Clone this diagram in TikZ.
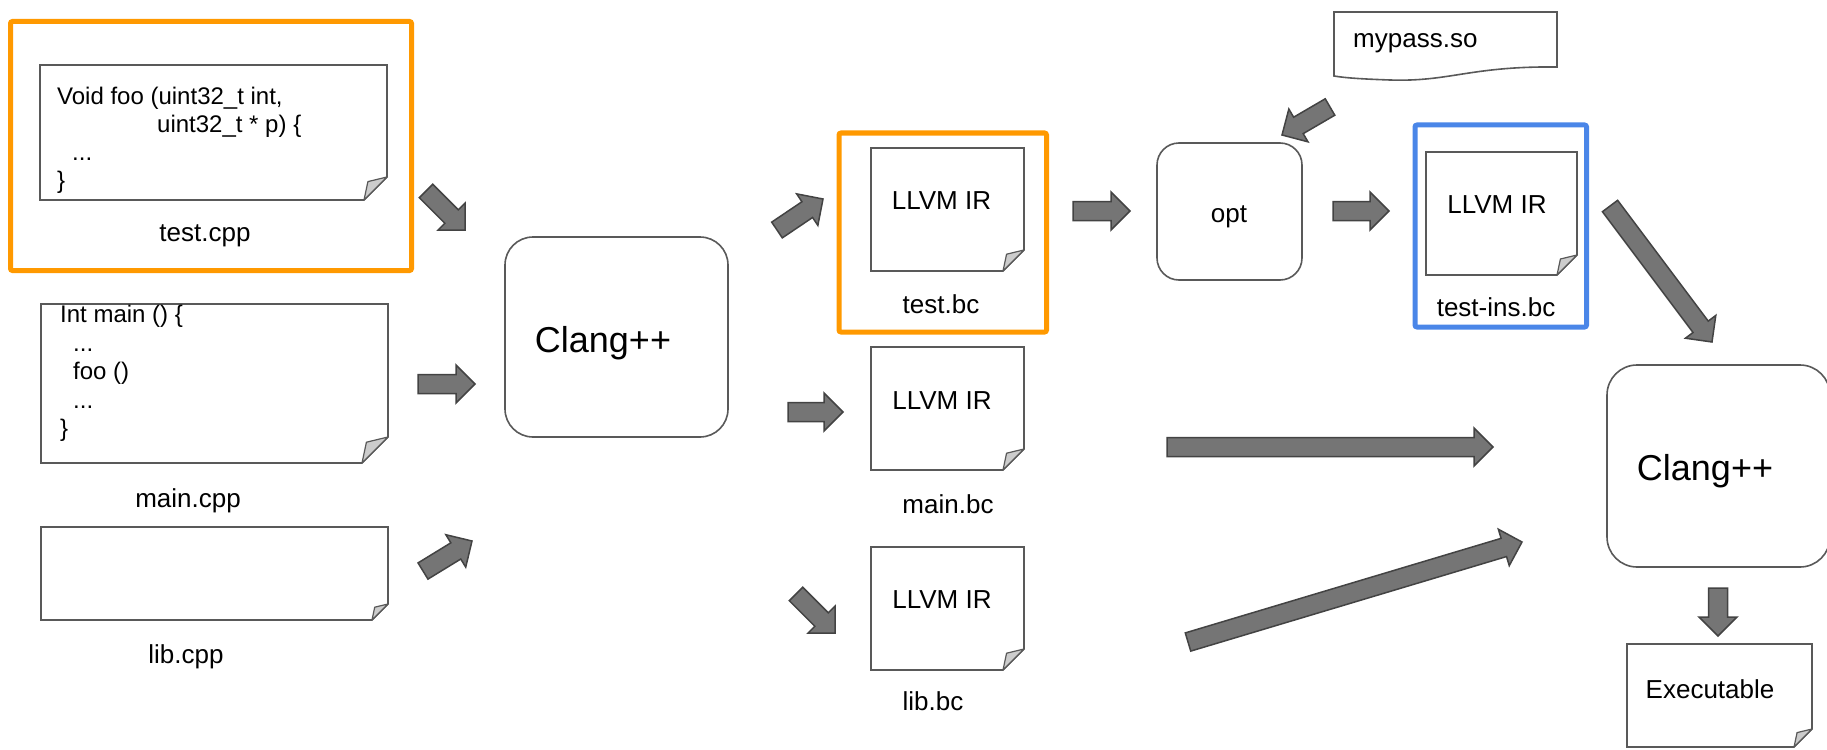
\documentclass[tikz,border=0pt]{standalone}
\usepackage{fontspec}
\setmainfont{Liberation Sans}
\usepackage{tikz}
\usetikzlibrary{
  calc,
  fit
}
\definecolor{hlorange}{HTML}{FF9900}
\definecolor{hlblue}{HTML}{4A86E8}
\definecolor{edgegray}{HTML}{595959}
\definecolor{foldgray}{HTML}{CCCCCC}
\definecolor{arrowfill}{HTML}{757575}
\definecolor{arrowedge}{HTML}{434343}

\tikzset{
  docframe/.style={inner sep=0pt, outer sep=0pt},
  docline/.style={draw=edgegray, line width=1.6pt, fill=white, line join=miter},
  foldpart/.style={draw=edgegray, line width=1.2pt, fill=foldgray, line join=round},
  procbox/.style={draw=edgegray, line width=1.6pt, inner sep=0pt, fill=white},
  hlframe/.style={draw=#1, line width=5pt, inner sep=0pt, rounded corners=2pt},
  blockarrow/.style={fill=arrowfill, draw=arrowedge, line width=1.5pt, line join=miter},
  lbl/.style={font=\fontsize{26}{30}\selectfont, inner sep=0pt, anchor=base},
  codetxt/.style={align=left, inner sep=0pt, anchor=north west},
  bigtxt/.style={font=\fontsize{36}{40}\selectfont, inner sep=0pt, anchor=base}
}

% page with a dog-eared corner, drawn round a fitted node
\newcommand{\foldeddoc}[2]{%
  \draw[docline] (#1.north west) -- (#1.north east) -- ($(#1.south east)+(0,-#2)$)
    -- ($(#1.south east)+(-#2,0)$) -- (#1.south west) -- cycle;
  \draw[foldpart] ($(#1.south east)+(0,-#2)$) -- ($(#1.south east)+(-#2,0)$)
    -- ($(#1.south east)+(-0.83*#2,-0.8*#2)$) -- cycle;
}
% fat block arrow from #1 (tail) to #2 (tip)
\newcommand{\fatarrow}[2]{%
  \coordinate (#1-hb) at ($(#2)!19pt!(#1)$);
  \draw[blockarrow] ($(#1)!9.5pt!90:(#2)$) -- ($(#1-hb)!9.5pt!-90:(#1)$)
    -- ($(#1-hb)!19pt!-90:(#1)$) -- (#2) -- ($(#1-hb)!19pt!90:(#1)$)
    -- ($(#1-hb)!9.5pt!90:(#1)$) -- ($(#1)!9.5pt!-90:(#2)$) -- cycle;
}

\begin{document}
\begin{tikzpicture}[x=1pt, y=-1pt]
    \useasboundingbox (0,0) rectangle (1827,749);

    % source files
    \node[docframe, fit={(40,65) (387,200)}] (testcpp) {};
    \node[docframe, fit={(41,304) (388,463)}] (maincpp) {};
    \node[docframe, fit={(41,527) (388,620)}] (libcpp) {};
    \foldeddoc{testcpp}{23}
    \foldeddoc{maincpp}{26}
    \foldeddoc{libcpp}{16}
    \node[codetxt, font=\fontsize{24}{28}\selectfont] (testcpp-code) at (57,87)
        {Void foo (uint32\_t int,\\\hspace*{100pt}uint32\_t * p) \{\\\hspace*{15pt}...\\\}};
    \node[codetxt, font=\fontsize{24}{28.5}\selectfont] (maincpp-code) at (60,305)
        {Int main () \{\\\hspace*{13pt}...\\\hspace*{13pt}foo ()\\\hspace*{13pt}...\\\}};
    \node[lbl] (testcpp-name) at (205,241) {test.cpp};
    \node[lbl] (maincpp-name) at (188,507) {main.cpp};
    \node[lbl] (libcpp-name) at (186,663) {lib.cpp};
    \node[hlframe=hlorange, fit={(10.5,21.5) (411.5,270.5)}] (testcpp-hl) {};

    % first compiler
    \node[procbox, rounded corners=28pt, fit={(505,237) (728,437)}] (clangA) {};
    \node[bigtxt] (clangA-txt) at (603,352) {Clang++};

    % bitcode files
    \node[docframe, fit={(871,148) (1024,271)}] (testbc) {};
    \node[docframe, fit={(871,347) (1024,470)}] (mainbc) {};
    \node[docframe, fit={(871,547) (1024,670)}] (libbc) {};
    \foldeddoc{testbc}{21}
    \foldeddoc{mainbc}{21}
    \foldeddoc{libbc}{21}
    \node[lbl] (testbc-ir) at (941.5,209) {LLVM IR};
    \node[lbl] (mainbc-ir) at (942,409) {LLVM IR};
    \node[lbl] (libbc-ir) at (942,608) {LLVM IR};
    \node[lbl] (testbc-name) at (941,313) {test.bc};
    \node[lbl] (mainbc-name) at (948,513) {main.bc};
    \node[lbl] (libbc-name) at (933,710) {lib.bc};
    \node[hlframe=hlorange, fit={(839,133) (1046.5,332)}] (testbc-hl) {};

    % optimiser and pass plugin
    \node[procbox, rounded corners=22pt, fit={(1157,143) (1302,280)}] (opt) {};
    \node[lbl] (opt-txt) at (1229,222) {opt};
    \node[docframe, fit={(1334,12) (1557,80)}] (mypass) {};
    \draw[docline] (mypass.north west) -- (mypass.north east) -- (1557,67)
        .. controls (1470,66) and (1450,82) .. (1390,80)
        .. controls (1362,79) and (1346,78) .. (1334,76) -- cycle;
    \node[lbl, anchor=base west] (mypass-txt) at (1353,48) {mypass.so};

    % instrumented bitcode
    \node[docframe, fit={(1426,152) (1577,275)}] (testins) {};
    \foldeddoc{testins}{20}
    \node[lbl] (testins-ir) at (1497,213) {LLVM IR};
    \node[lbl] (testins-name) at (1496,316) {test-ins.bc};
    \node[hlframe=hlblue, fit={(1415,125) (1586.5,327)}] (testins-hl) {};

    % second compiler and result
    \node[procbox, rounded corners=30pt, fit={(1607,365) (1830,567)}] (clangB) {};
    \node[bigtxt] (clangB-txt) at (1705,480) {Clang++};
    \node[docframe, fit={(1627,644) (1812,747)}] (exe) {};
    \foldeddoc{exe}{18}
    \node[lbl] (exe-txt) at (1710,698) {Executable};

    % arrow ends
    \coordinate (testcpp-out) at (426,191);  \coordinate (clangA-in1) at (465,230);
    \coordinate (maincpp-out) at (418,384);  \coordinate (clangA-in2) at (475,384);
    \coordinate (libcpp-out) at (423,571);   \coordinate (clangA-in3) at (472,541);
    \coordinate (clangA-out1) at (777,230);  \coordinate (testbc-in) at (823,199);
    \coordinate (clangA-out2) at (788,412);  \coordinate (mainbc-in) at (843,412);
    \coordinate (clangA-out3) at (796,594);  \coordinate (libbc-in) at (835,633);
    \coordinate (testbc-out) at (1073,211);  \coordinate (opt-in1) at (1130,211);
    \coordinate (mypass-out) at (1330,107);  \coordinate (opt-in2) at (1282,135);
    \coordinate (opt-out) at (1333,211);     \coordinate (testins-in) at (1389,211);
    \coordinate (testins-out) at (1610,206); \coordinate (clangB-in1) at (1712,342);
    \coordinate (mainbc-out) at (1167,447);  \coordinate (clangB-in2) at (1493,447);
    \coordinate (libbc-out) at (1188,642);   \coordinate (clangB-in3) at (1522,542);
    \coordinate (clangB-out) at (1718,588);  \coordinate (exe-in) at (1718,636);

    \fatarrow{testcpp-out}{clangA-in1}
    \fatarrow{maincpp-out}{clangA-in2}
    \fatarrow{libcpp-out}{clangA-in3}
    \fatarrow{clangA-out1}{testbc-in}
    \fatarrow{clangA-out2}{mainbc-in}
    \fatarrow{clangA-out3}{libbc-in}
    \fatarrow{testbc-out}{opt-in1}
    \fatarrow{mypass-out}{opt-in2}
    \fatarrow{opt-out}{testins-in}
    \fatarrow{testins-out}{clangB-in1}
    \fatarrow{mainbc-out}{clangB-in2}
    \fatarrow{libbc-out}{clangB-in3}
    \fatarrow{clangB-out}{exe-in}
\end{tikzpicture}
\end{document}
